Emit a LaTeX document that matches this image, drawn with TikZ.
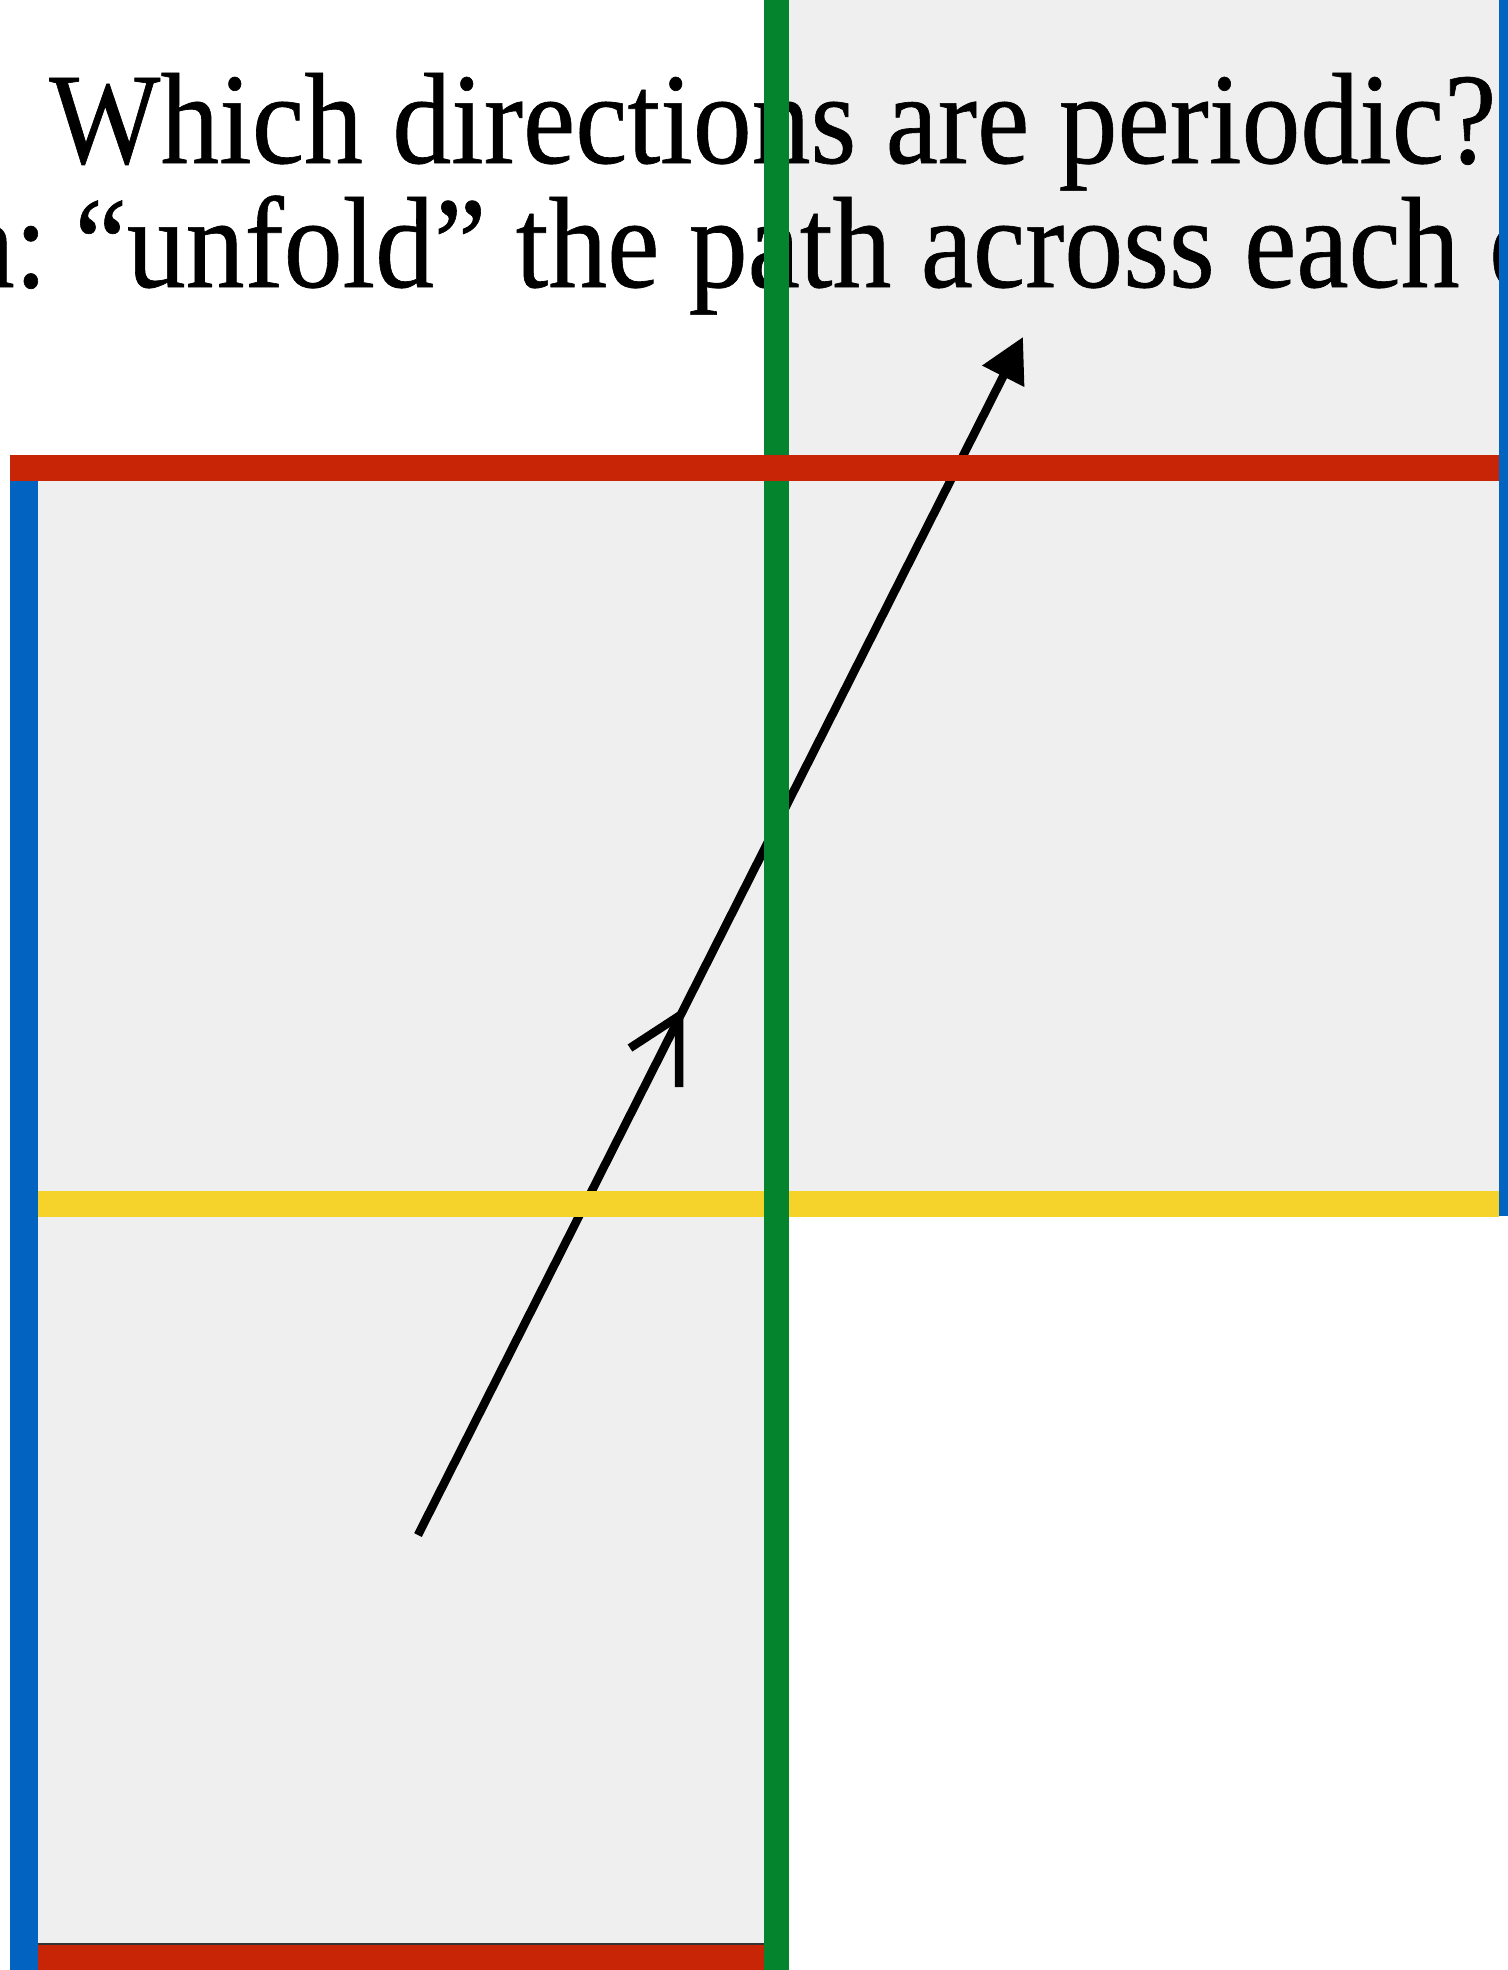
\documentclass[tikz,border=0pt]{standalone}
\usepackage{fontspec}
\setmainfont[FakeBold=0.5]{Liberation Serif}
\usetikzlibrary{arrows.meta}
\definecolor{bgray}{HTML}{EFEFEF}
\definecolor{ered}{HTML}{C82506}
\definecolor{egreen}{HTML}{04852D}
\definecolor{eblue}{HTML}{0264C0}
\definecolor{eyellow}{HTML}{F6D32A}
\newcommand{\titlescale}[1]{\scalebox{1.014}[1.12]{#1}}
\begin{document}
\begin{tikzpicture}[x=0.5pt,y=-0.5pt,
  edgeline/.style={line width=13pt},
  titletext/.style={font=\fontsize{58pt}{60pt}\selectfont, inner sep=0pt, anchor=base west},
  pathline/.style={line width=4.25pt, draw=black}]
\useasboundingbox (0,0) rectangle (1508,1970);
\clip (0,0) rectangle (1508,1970);
% grey squares
\fill[bgray] (24,468) rectangle (776,1958);
\fill[bgray] (776,0) rectangle (1512,1203);
% texts
\node[titletext] (t1) at (49,163) {\titlescale{Which directions are periodic?}};
\node[titletext] (t2) at (-38,287) {\titlescale{a:\hspace{-0.1em} “unfold” the path across each e}};
% unfolded path
\coordinate (ps) at (418,1535);
\coordinate (pe) at (1023,337);
\draw[pathline, -{Triangle[length=22pt,width=22.5pt]}] (ps) -- (pe);
\coordinate (ca) at (630,1048);
\coordinate (ct) at (679,1016);
\coordinate (cb) at (679,1087);
\draw[pathline, miter limit=12] (ca) -- (ct) -- (cb);
% coloured edges
\draw[edgeline, eyellow] (38,1203.5) -- (1499,1203.5);
\draw[edgeline, ered] (38,1958) -- (764,1958);
\draw[line width=0.75pt, black!80] (38,1944) -- (764,1944);
\draw[line width=14pt, eblue] (24,455) -- (24,1970);
\draw[edgeline, eblue] (1512,0) -- (1512,1216);
\draw[line width=12.5pt, egreen] (776.5,0) -- (776.5,1970);
\draw[edgeline, ered] (10,468) -- (1499,468);
\end{tikzpicture}
\end{document}
